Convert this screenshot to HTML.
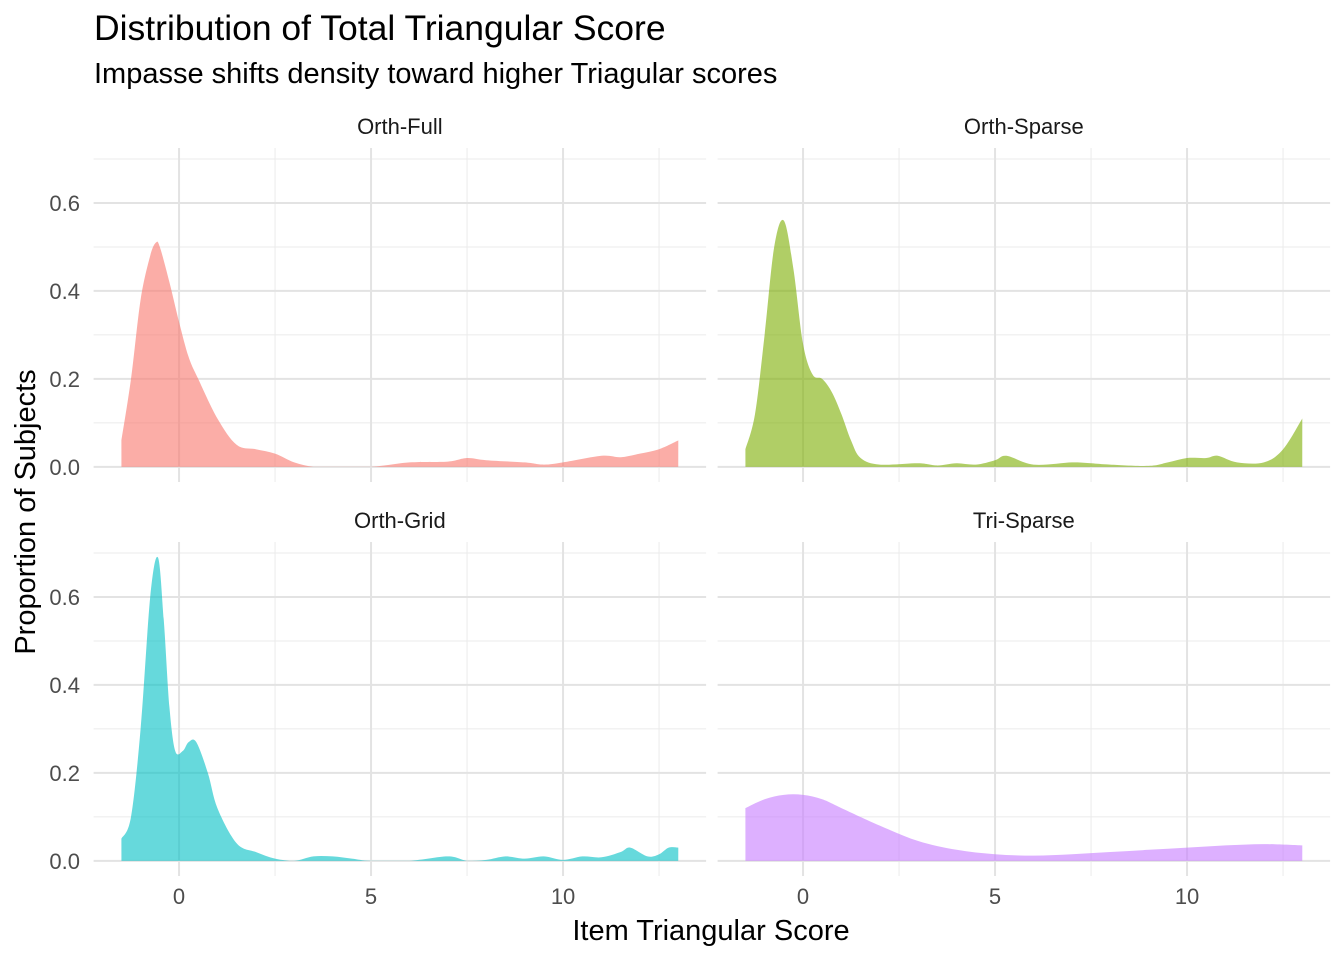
<!DOCTYPE html>
<html><head><meta charset="utf-8"><style>
body{margin:0;background:#fff;font-family:"Liberation Sans",Arial,sans-serif}
svg text{font-family:"Liberation Sans",Arial,sans-serif}
</style></head><body>
<svg id="c" width="1344" height="960">
<text x="94" y="40" font-size="35.5" fill="#000">Distribution of Total Triangular Score</text>
<text x="94" y="83" font-size="29" fill="#000">Impasse shifts density toward higher Triagular scores</text>
<text x="711" y="940" font-size="29" text-anchor="middle" fill="#000">Item Triangular Score</text>
<text transform="translate(35,512) rotate(-90)" font-size="29" text-anchor="middle" fill="#000">Proportion of Subjects</text>
</svg>
<script>
const panelNames=["Orth-Full","Orth-Sparse","Orth-Grid","Tri-Sparse"];
const panelColors=["#F8766D","#7CAE00","#00BFC4","#C77CFF"];
const xFull=[-1.5,-1.25,-1,-0.75,-0.6,-0.5,-0.25,0,0.25,0.5,1,1.5,2,2.5,3,3.5,4,5,6,7,7.5,8,9,9.5,10,11,11.5,12,12.5,13];
const yFull=[0.06,0.2,0.38,0.48,0.51,0.5,0.42,0.33,0.25,0.2,0.11,0.05,0.04,0.03,0.01,0.0,0,0,0.01,0.012,0.02,0.015,0.01,0.005,0.01,0.025,0.022,0.03,0.04,0.06];
const xSparse=[-1.5,-1.25,-1,-0.75,-0.5,-0.25,0,0.25,0.5,0.75,1,1.25,1.5,2,3,3.5,4,4.5,5,5.3,6,7,7.5,8,9,9.5,10,10.5,10.8,11.3,12,12.5,13];
const ySparse=[0.04,0.12,0.3,0.5,0.56,0.45,0.28,0.21,0.2,0.17,0.12,0.06,0.02,0.005,0.008,0.003,0.008,0.005,0.015,0.025,0.005,0.01,0.008,0.005,0.002,0.01,0.02,0.02,0.025,0.01,0.01,0.04,0.11];
const xGrid=[-1.5,-1.25,-1,-0.75,-0.55,-0.4,-0.25,-0.1,0.1,0.25,0.45,0.75,1,1.5,2,2.5,3,3.5,4,4.5,5,6,7,7.5,8,8.5,9,9.5,10,10.5,11,11.5,11.75,12.2,12.5,12.75,13];
const yGrid=[0.05,0.1,0.3,0.6,0.69,0.55,0.35,0.25,0.25,0.27,0.27,0.2,0.12,0.04,0.02,0.005,0,0.01,0.01,0.005,0,0,0.01,0,0.002,0.01,0.005,0.01,0.002,0.01,0.008,0.02,0.03,0.01,0.015,0.03,0.03];
const xTri=[-1.5,-1,-0.5,0,0.5,1,2,3,4,5,6,7,8,9,10,11,12,13];
const yTri=[0.12,0.14,0.15,0.15,0.14,0.12,0.08,0.045,0.025,0.015,0.012,0.015,0.02,0.025,0.03,0.035,0.038,0.035];
const xTicks=[0,5,10];
const yTicks=[0,0.2,0.4,0.6];
const seriesX=[xFull,xSparse,xGrid,xTri];
const seriesY=[yFull,ySparse,yGrid,yTri];

const NS="http://www.w3.org/2000/svg";
const svg=document.getElementById('c');
function mk(t,a,p){const e=document.createElementNS(NS,t);for(const k in a)e.setAttribute(k,a[k]);(p||svg).appendChild(e);return e;}
const xmin=-2.225,xmax=13.725,ymax=0.725;
const panels=[[93.6,148,612.5,334],[717.6,148,612.5,334],[93.6,542,612.5,334],[717.6,542,612.5,334]];
panels.forEach((p,i)=>{
  const [px,py,pw,ph]=p;
  const xs=v=>px+(v-xmin)/(xmax-xmin)*pw;
  const ys=v=>py+ph-(v+0.0345)/(ymax+0.0345)*ph;
  const g=mk('g',{});
  
  
  [2.5,7.5,12.5].forEach(v=>mk('line',{x1:xs(v),x2:xs(v),y1:py,y2:py+ph,stroke:'#EBEBEB','stroke-width':1},g));
  [0.1,0.3,0.5,0.7].forEach(v=>mk('line',{x1:px,x2:px+pw,y1:ys(v),y2:ys(v),stroke:'#EBEBEB','stroke-width':1},g));
  xTicks.forEach(v=>mk('line',{x1:xs(v),x2:xs(v),y1:py,y2:py+ph,stroke:'#E3E3E3','stroke-width':2},g));
  yTicks.forEach(v=>mk('line',{x1:px,x2:px+pw,y1:ys(v),y2:ys(v),stroke:'#E3E3E3','stroke-width':2},g));
  const X=seriesX[i],Y=seriesY[i];
  const P=X.map((x,j)=>[xs(x),ys(Y[j])]);
  let d='M'+P[0][0]+','+ys(0)+' L'+P[0][0].toFixed(1)+','+P[0][1].toFixed(1);
  for(let j=0;j<P.length-1;j++){
    const p0=P[Math.max(0,j-1)],p1=P[j],p2=P[j+1],p3=P[Math.min(P.length-1,j+2)];
    let c1y=p1[1]+(p2[1]-p0[1])/6,c2y=p2[1]-(p3[1]-p1[1])/6;
    const base=ys(0);c1y=Math.min(c1y,base);c2y=Math.min(c2y,base);
    d+=' C'+(p1[0]+(p2[0]-p0[0])/6).toFixed(1)+','+c1y.toFixed(1)+' '+(p2[0]-(p3[0]-p1[0])/6).toFixed(1)+','+c2y.toFixed(1)+' '+p2[0].toFixed(1)+','+p2[1].toFixed(1);
  }
  d+=' L'+P[P.length-1][0]+','+ys(0)+' Z';
  const a=mk('path',{d:d,fill:panelColors[i],'fill-opacity':0.6,stroke:'none'},g);
  
  
  const s=mk('text',{x:px+pw/2,y:py-14,'font-size':22,'text-anchor':'middle',fill:'#1a1a1a'},g);
  s.textContent=panelNames[i];
  
  
  if(i%2===0){yTicks.forEach(v=>{const t=mk('text',{x:80,y:ys(v)+8,'font-size':22,'text-anchor':'end',fill:'#4d4d4d'},g);t.textContent=v.toFixed(1);
    
    });}
  if(i>=2){xTicks.forEach(v=>{const t=mk('text',{x:xs(v),y:py+ph+28,'font-size':22,'text-anchor':'middle',fill:'#4d4d4d'},g);t.textContent=v;
    
    });}
});
</script>
</body></html>
